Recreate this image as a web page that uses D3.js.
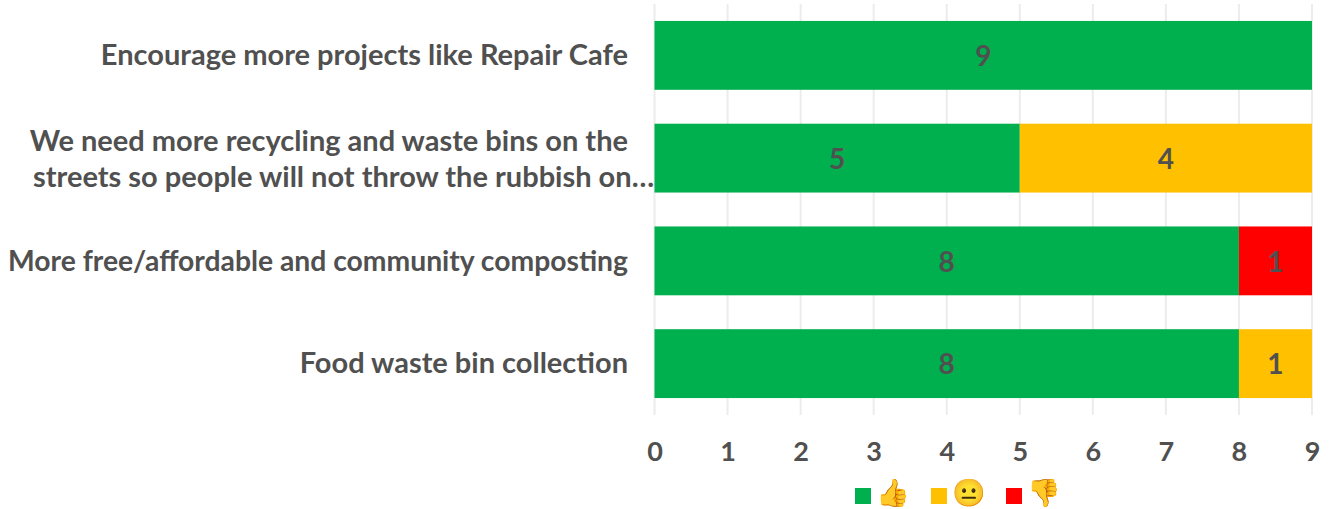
<!DOCTYPE html>
<html lang="en">
  <head>
    <meta charset="utf-8">
    <title>Feedback on waste ideas</title>
    <style>
      body { margin: 0; background: #fff; }
      text { font-family: Lato, "Open Sans", sans-serif; font-weight: 700; fill: #505050; }
      .grid line { stroke: #ececec; stroke-width: 2px; }
      .axis-x path, .axis-x line { display: none; }
      .axis-x text { font-size: 27px; }
      .cat { font-size: 29px; }
      .val { font-size: 28px; }
      .emoji { font-family: "Noto Color Emoji", "Apple Color Emoji", "DejaVu Sans", sans-serif; font-weight: 400; font-size: 27px; fill: #f5b52e; }
    </style>
  </head>

  <body>
    <svg id="wrapper" width="1331" height="509"></svg>

    <script src="https://cdnjs.cloudflare.com/ajax/libs/d3/7.8.5/d3.min.js"></script>
    <script>
    const categories = [
      ['Encourage more projects like Repair Cafe'],
      ['We need more recycling and waste bins on the', 'streets so people will not throw the rubbish on…'],
      ['More free/affordable and community composting'],
      ['Food waste bin collection']
    ];
    const positive = [9, 5, 8, 8];
    const neutral = [0, 4, 0, 1];
    const negative = [0, 0, 1, 0];
    const xTicks = [0, 1, 2, 3, 4, 5, 6, 7, 8, 9];

    const seriesNames = ['👍', '😐', '👎'];
    const seriesColors = ['#00b04f', '#ffc000', '#ff0000'];

    const svg = d3.select('#wrapper');

    const x = d3.scaleLinear().domain([0, 9]).range([654.5, 1312]);
    const y = d3.scaleBand()
      .domain(d3.range(categories.length))
      .range([4, 415])
      .paddingInner(0.33)
      .paddingOuter(0.165);

    // gridlines sit behind the bars
    svg.append('g').attr('class', 'grid')
      .selectAll('line')
      .data(xTicks)
      .join('line')
      .attr('x1', d => x(d))
      .attr('x2', d => x(d))
      .attr('y1', 4)
      .attr('y2', 415);

    // stacked bars
    const rows = categories.map((c, i) => ({i: i, a: positive[i], b: neutral[i], c: negative[i]}));
    const stacked = d3.stack().keys(['a', 'b', 'c'])(rows);

    const layers = svg.selectAll('g.layer')
      .data(stacked)
      .join('g')
      .attr('class', 'layer')
      .attr('fill', (d, i) => seriesColors[i]);

    layers.selectAll('rect')
      .data(d => d)
      .join('rect')
      .attr('x', d => x(d[0]))
      .attr('y', d => y(d.data.i))
      .attr('width', d => x(d[1]) - x(d[0]))
      .attr('height', y.bandwidth());

    // value labels, zero segments get none
    layers.selectAll('text')
      .data(d => d.filter(s => s[1] > s[0]))
      .join('text')
      .attr('class', 'val')
      .attr('x', d => x((d[0] + d[1]) / 2))
      .attr('y', d => y(d.data.i) + y.bandwidth() / 2)
      .attr('dy', '0.38em')
      .attr('text-anchor', 'middle')
      .text(d => d[1] - d[0]);

    // category labels
    const catLabels = svg.append('g')
      .selectAll('text')
      .data(categories)
      .join('text')
      .attr('class', 'cat')
      .attr('text-anchor', 'end')
      .attr('y', (d, i) => y(i) + y.bandwidth() / 2);

    catLabels.selectAll('tspan')
      .data(d => d)
      .join('tspan')
      .attr('x', (d, i, n) => n.length > 1 && i === 1 ? 654 : 628)
      .attr('dy', (d, i, n) => n.length === 1 ? '0.34em' : (i === 0 ? '-0.24em' : '1.24em'))
      .text(d => d);

    // the one line too long for the left margin gets squeezed to fit
    catLabels.filter(d => d.length === 1).each(function() {
      if (this.getComputedTextLength() > 628) {
        d3.select(this).select('tspan').attr('textLength', 620).attr('lengthAdjust', 'spacingAndGlyphs');
      }
    });

    // x axis labels
    svg.append('g')
      .attr('class', 'axis-x')
      .attr('transform', 'translate(0,451)')
      .call(d3.axisBottom(x).tickValues(xTicks).tickFormat(d3.format('d')).tickSize(0).tickPadding(0))
      .selectAll('text')
      .attr('dy', '0.36em')
      .attr('y', 0);

    // legend
    const legendX = d3.scaleOrdinal().domain(seriesNames).range([855, 931, 1006]);
    const legend = svg.append('g')
      .selectAll('g')
      .data(seriesNames)
      .join('g')
      .attr('transform', d => 'translate(' + legendX(d) + ',488)');

    legend.append('rect')
      .attr('width', 16)
      .attr('height', 16)
      .attr('fill', (d, i) => seriesColors[i]);

    legend.append('text')
      .attr('class', 'emoji')
      .attr('x', 21)
      .attr('y', 14)
      .text(d => d);
    </script>
  </body>
</html>
